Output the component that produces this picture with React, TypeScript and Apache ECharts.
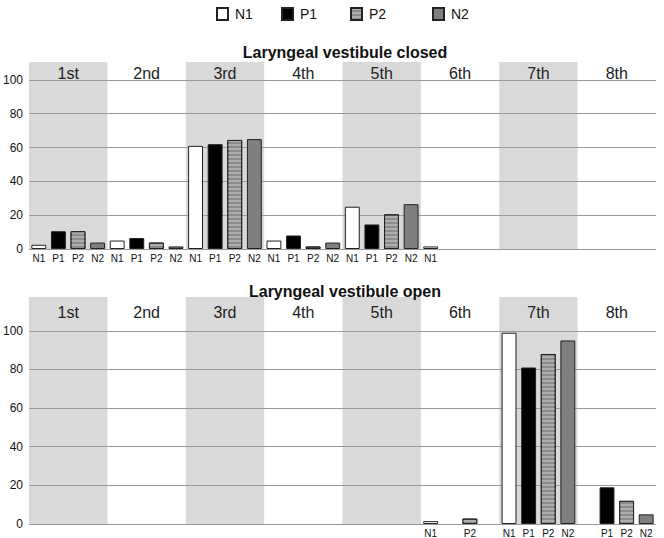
import React, { useEffect, useRef } from "react";
import * as echarts from "echarts";

const groups = ["1st", "2nd", "3rd", "4th", "5th", "6th", "7th", "8th"];
const types = ["N1", "P1", "P2", "N2"];
const yTicks = [0, 20, 40, 60, 80, 100];

// Laryngeal vestibule closed
const closedN1 = [2.5, 5, 61, 5, 25, 1.5, 0, 0];
const closedP1 = [10.5, 6.5, 62, 8, 14.5, 0, 0, 0];
const closedP2 = [10.5, 3.8, 64.5, 1.5, 20.5, 0, 0, 0];
const closedN2 = [3.8, 1.5, 65, 3.8, 26.5, 0, 0, 0];

// Laryngeal vestibule open
const openN1 = [0, 0, 0, 0, 0, 1.5, 99, 0];
const openP1 = [0, 0, 0, 0, 0, 0, 81, 19];
const openP2 = [0, 0, 0, 0, 0, 2.8, 88, 12];
const openN2 = [0, 0, 0, 0, 0, 0, 95, 5];

const FONT = "'Liberation Sans', Arial, sans-serif";

const styles: any[] = [
  { color: "#ffffff", borderColor: "#222", borderWidth: 1 },
  { color: "#000000", borderColor: "#222", borderWidth: 1 },
  {
    color: "#8c8c8c",
    borderColor: "#222",
    borderWidth: 1,
    decal: {
      symbol: "rect",
      symbolSize: 1,
      dashArrayX: [1, 0],
      dashArrayY: [2, 2],
      color: "#adadad",
      rotation: 0,
    },
  },
  { color: "#7f7f7f", borderColor: "#222", borderWidth: 1 },
];

export default function App() {
  const ref = useRef<HTMLDivElement>(null);
  useEffect(() => {
    const chart = echarts.init(ref.current!, undefined, { renderer: "svg" });
    const charts = [
      { vals: [closedN1, closedP1, closedP2, closedN2], top: 62, bottom: 289, max: 110.6 },
      { vals: [openN1, openP1, openP2, openN2], top: 297, bottom: 13, max: 117.5 },
    ];
    const grid: any[] = [];
    const xAxis: any[] = [];
    const yAxis: any[] = [];
    const series: any[] = [];
    charts.forEach((c, ci) => {
      grid.push({ left: 26, right: 8, top: c.top, bottom: c.bottom });
      const cats: string[] = [];
      const flat: number[] = [];
      groups.forEach((g, gi) => {
        types.forEach((t, ti) => {
          cats.push(g + "-" + t);
          flat.push(c.vals[ti][gi]);
        });
      });
      xAxis.push({
        type: "category",
        gridIndex: ci,
        data: cats,
        position: "bottom",
        axisLine: { show: false },
        axisTick: { show: false },
        axisLabel: {
          interval: 0,
          margin: 4,
          fontSize: 10,
          fontFamily: FONT,
          color: "#111",
          formatter: (v: string, i: number) => (flat[i] > 0 ? v.split("-")[1] : ""),
        },
      });
      xAxis.push({
        type: "category",
        gridIndex: ci,
        data: groups,
        position: "top",
        axisLine: { show: false },
        axisTick: { show: false },
        splitLine: { show: false },
        axisLabel: {
          inside: true,
          interval: 0,
          margin: ci === 0 ? 3 : 7,
          fontSize: 16,
          fontFamily: FONT,
          color: "#222",
        },
        splitArea: {
          show: true,
          areaStyle: { color: ["#d9d9d9", "rgba(255,255,255,0)"] },
        },
      });
      yAxis.push({
        type: "value",
        gridIndex: ci,
        min: 0,
        max: c.max,
        interval: 20,
        z: 1,
        axisLine: { show: false },
        axisTick: { show: false },
        axisLabel: {
          margin: 6,
          fontSize: 12,
          fontFamily: FONT,
          color: "#111",
          formatter: (v: number) => (yTicks.indexOf(v) >= 0 ? String(v) : ""),
        },
        splitLine: {
          show: true,
          showMaxLine: false,
          lineStyle: {
            color: ["#999", "#999", "#999", "#999", "#999", "#999", "rgba(0,0,0,0)"],
            width: 1,
          },
        },
      });
      types.forEach((t, ti) => {
        series.push({
          type: "bar",
          name: t,
          xAxisIndex: ci * 2,
          yAxisIndex: ci,
          stack: "s" + ci,
          barWidth: "76%",
          itemStyle: styles[ti],
          data: flat.map((v, i) => (i % 4 === ti && v > 0 ? v : "-")),
        });
      });
    });
    const legendLefts = [216, 281, 350, 432];
    chart.setOption({
      animation: false,
      textStyle: { fontFamily: FONT },
      title: [
        {
          text: "Laryngeal vestibule closed",
          left: 340,
          textAlign: "center",
          top: 39,
          textStyle: { fontSize: 16, fontWeight: "bold", fontFamily: FONT, color: "#111" },
        },
        {
          text: "Laryngeal vestibule open",
          left: 340,
          textAlign: "center",
          top: 278,
          textStyle: { fontSize: 16, fontWeight: "bold", fontFamily: FONT, color: "#111" },
        },
      ],
      legend: types.map((t, i) => ({
        data: [t],
        left: legendLefts[i],
        top: 7,
        padding: 0,
        itemWidth: 11,
        itemHeight: 12,
        icon: "rect",
        itemGap: 5,
        textStyle: { fontSize: 14, fontFamily: FONT, color: "#111", padding: [0, 0, 0, 2] },
      })),
      grid,
      xAxis,
      yAxis,
      series,
    });
    return () => chart.dispose();
  }, []);
  return (
    <div
      ref={ref}
      style={{ position: "fixed", left: 0, top: 0, width: 664, height: 538, background: "#fff" }}
    />
  );
}
